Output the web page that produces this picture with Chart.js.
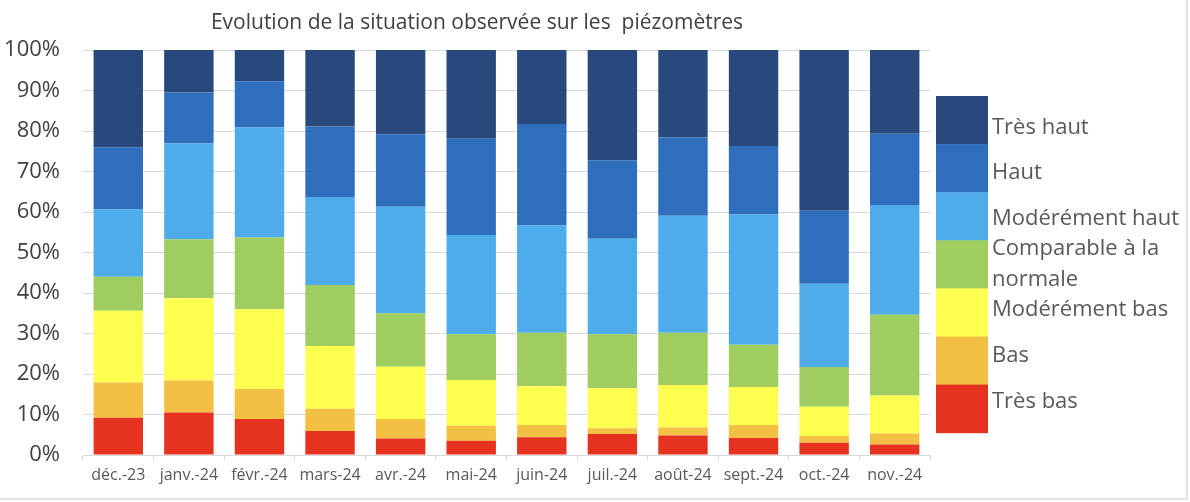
<!DOCTYPE html>
<html lang="fr">
<head>
    <meta charset="UTF-8">
    <title>Evolution de la situation observée sur les piézomètres</title>
    <script src="https://cdn.jsdelivr.net/npm/chart.js@4.4.1/dist/chart.umd.min.js"></script>
    <style>
        body {
            margin: 0;
            padding: 0;
            background-color: #fff;
        }

        .frame {
            position: relative;
            width: 1186px;
            height: 498px;
            overflow: hidden;
            border-right: 2px solid #e4e4e4;
            border-bottom: 2px solid #e4e4e4;
        }

        #chart {
            position: absolute;
            left: 0;
            top: 0;
        }
    </style>
</head>
<body>
    <div class="frame">
        <canvas id="chart" width="1190" height="502"></canvas>
    </div>

    <script>
        // Mois (axe des x)
        const months = ['déc.-23', 'janv.-24', 'févr.-24', 'mars-24', 'avr.-24', 'mai-24',
                        'juin-24', 'juil.-24', 'août-24', 'sept.-24', 'oct.-24', 'nov.-24'];

        // Part des piézomètres par classe (%), du bas vers le haut de la pile
        const tresBas  = [9.2, 10.5, 8.9, 5.9, 4.1, 3.5, 4.4, 5.2, 4.8, 4.2, 3.0, 2.6];
        const bas      = [8.7, 7.9, 7.4, 5.5, 4.8, 3.7, 3.0, 1.4, 2.0, 3.2, 1.7, 2.7];
        const modBas   = [17.7, 20.3, 19.7, 15.5, 12.9, 11.3, 9.6, 9.9, 10.5, 9.4, 7.2, 9.4];
        const normale  = [8.4, 14.6, 17.7, 15.1, 13.2, 11.3, 13.2, 13.3, 12.9, 10.4, 9.8, 19.9];
        const modHaut  = [16.7, 23.7, 27.2, 21.7, 26.3, 24.5, 26.5, 23.6, 28.9, 32.2, 20.6, 27.1];
        const haut     = [15.3, 12.5, 11.4, 17.4, 17.9, 23.8, 25.0, 19.4, 19.3, 16.9, 18.0, 17.6];
        const tresHaut = [24.0, 10.5, 7.7, 18.9, 20.8, 21.9, 18.3, 27.2, 21.6, 23.7, 39.7, 20.7];

        const classLabels = ['Très bas', 'Bas', 'Modérément bas', 'Comparable à la normale',
                             'Modérément haut', 'Haut', 'Très haut'];
        const classColors = ['#e5331f', '#f4c043', '#ffff4f', '#9fcd5f', '#4eacea', '#2f6ebd', '#29497d'];
        const series = [tresBas, bas, modBas, normale, modHaut, haut, tresHaut];

        const FONT = "'Open Sans', 'Noto Sans', sans-serif";

        // Legend drawn as a column of stacked colour blocks, like the Excel original
        const blockLegend = {
            id: 'blockLegend',
            afterDraw(chart) {
                const ctx = chart.ctx;
                const sets = chart.data.datasets.slice().reverse();
                const x = chart.chartArea.right + 6;
                const w = 52;
                const top = 96;
                const h = 48.1;
                const mid = top + h * sets.length / 2;
                const textSpacing = h * 0.95;
                const maxText = 192;
                const lineH = 31;

                ctx.save();
                ctx.font = '22px ' + FONT;
                ctx.textBaseline = 'middle';
                ctx.textAlign = 'left';

                sets.forEach((ds, i) => {
                    ctx.fillStyle = ds.backgroundColor;
                    ctx.fillRect(x, top + i * h, w, h + 0.5);
                });

                ctx.fillStyle = '#595959';
                sets.forEach((ds, i) => {
                    // simple word wrap
                    const words = ds.label.split(' ');
                    const lines = [];
                    let cur = '';
                    words.forEach(word => {
                        const test = cur ? cur + ' ' + word : word;
                        if (ctx.measureText(test).width > maxText && cur) {
                            lines.push(cur);
                            cur = word;
                        } else {
                            cur = test;
                        }
                    });
                    lines.push(cur);

                    const blockCenter = top + i * h + h / 2;
                    const cy = mid + (blockCenter - mid) * (textSpacing / h);
                    const y0 = cy - (lines.length - 1) * lineH / 2;
                    lines.forEach((line, j) => {
                        ctx.fillText(line, x + w + 4, y0 + j * lineH);
                    });
                });
                ctx.restore();
            }
        };

        const ctx = document.getElementById('chart').getContext('2d');

        new Chart(ctx, {
            type: 'bar',
            data: {
                labels: months,
                datasets: series.map((values, i) => ({
                    label: classLabels[i],
                    data: values,
                    backgroundColor: classColors[i],
                    borderWidth: 0,
                    barPercentage: 0.7,
                    categoryPercentage: 1.0
                }))
            },
            options: {
                responsive: false,
                animation: false,
                layout: {
                    padding: { left: 0, right: 236, top: 0, bottom: 0 }
                },
                plugins: {
                    legend: { display: false },
                    tooltip: { enabled: false },
                    title: {
                        display: true,
                        text: 'Evolution de la situation observée sur les  piézomètres',
                        color: '#404040',
                        font: { family: FONT, size: 21, weight: 'normal', lineHeight: 1.2 },
                        padding: { top: 10, bottom: 14.8 }
                    }
                },
                scales: {
                    x: {
                        stacked: true,
                        grid: {
                            offset: true,
                            drawOnChartArea: false,
                            drawTicks: true,
                            tickLength: 5,
                            color: '#d9d9d9'
                        },
                        border: { display: true, color: '#d9d9d9' },
                        ticks: {
                            color: '#595959',
                            padding: 6,
                            maxRotation: 0,
                            autoSkip: false,
                            font: { family: FONT, size: 16 }
                        },
                        afterFit(scale) {
                            scale.height = 47;
                        }
                    },
                    y: {
                        stacked: true,
                        min: 0,
                        max: 100,
                        grid: {
                            color: '#d9d9d9',
                            drawTicks: false
                        },
                        border: { display: false },
                        ticks: {
                            stepSize: 10,
                            color: '#404040',
                            padding: 23,
                            font: { family: FONT, size: 22 },
                            callback: value => value + '%'
                        },
                        afterFit(scale) {
                            scale.width = 83;
                        }
                    },
                    // empty spacer on the right so the title centres like the original
                    spacer: {
                        type: 'linear',
                        position: 'right',
                        grid: { display: false },
                        border: { display: false },
                        ticks: { display: false },
                        afterFit(scale) {
                            scale.width = 24;
                        }
                    }
                }
            },
            plugins: [blockLegend]
        });
    </script>
</body>
</html>
